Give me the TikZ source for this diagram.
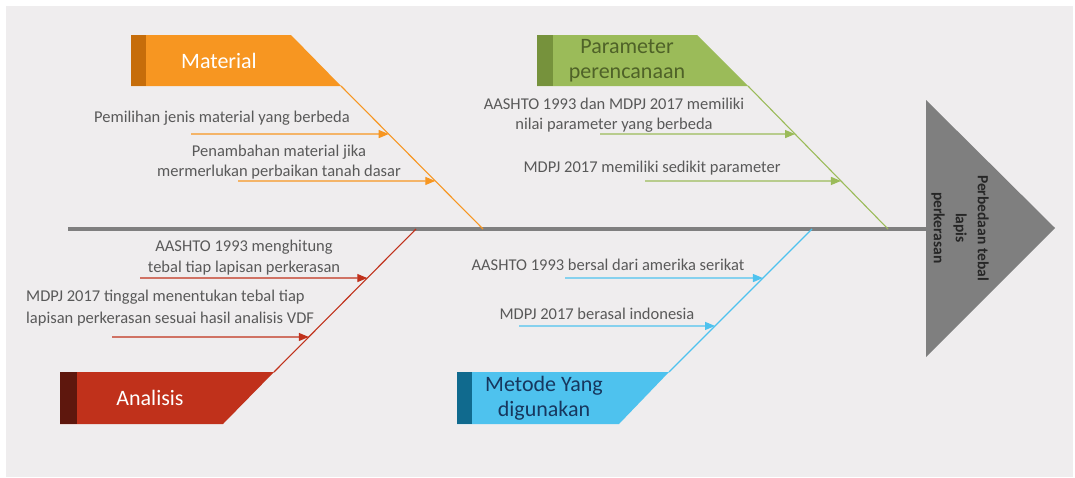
\documentclass[tikz,border=0pt]{standalone}
\usepackage{fontspec}
\setmainfont{Carlito}
\usetikzlibrary{arrows.meta,calc}

\definecolor{bgc}{HTML}{EFEDEE}
\definecolor{spinec}{HTML}{7F7F7F}
\definecolor{txt}{HTML}{595959}
\definecolor{orangem}{HTML}{F79621}
\definecolor{oranged}{HTML}{C66D0A}
\definecolor{greenm}{HTML}{9BBB59}
\definecolor{greend}{HTML}{76923C}
\definecolor{greent}{HTML}{4F6228}
\definecolor{redm}{HTML}{C0311B}
\definecolor{redd}{HTML}{5E170D}
\definecolor{bluem}{HTML}{4EC2EE}
\definecolor{blued}{HTML}{106A8E}
\definecolor{bluet}{HTML}{17375E}

\tikzset{
  label/.style={font=\fontsize{16.5}{20.5}\selectfont, text=txt, align=center, inner sep=0pt},
  boxtext/.style={font=\fontsize{22}{25}\selectfont, align=center, inner sep=0pt},
  bone/.style={line width=1.1pt},
  cause/.style={line width=1.2pt, -{Triangle[length=10pt,width=8pt]}},
  spine/.style={line width=4pt, draw=spinec},
}

\begin{document}
\begin{tikzpicture}[x=1pt,y=-1pt]
\useasboundingbox (0,0) rectangle (1075,477);
\fill[bgc] (6,6) rectangle (1073,477);

% main spine and head
\coordinate (tail) at (68,229);
\coordinate (head) at (926,229);
\fill[spinec] (926,100) -- (1055,228) -- (926,357) -- cycle;
\draw[spine] (tail) -- (head);
\node[rotate=-90, font=\bfseries\fontsize{15.5}{22}\selectfont, text=black!85, align=center, inner sep=0pt]
  (effect) at (960,228) {Perbedaan tebal\\lapis\\perkerasan};

% ---------- Material ----------
\fill[orangem] (131,35) -- (291,35) -- (341,86) -- (131,86) -- cycle;
\fill[oranged] (131,35) rectangle (146,86);
\node[boxtext, text=white] (mat) at (219,61) {Material};
\coordinate (matA) at (341,86);
\coordinate (matB) at (483,229);
\draw[bone, orangem] (matA) -- (matB);
\coordinate (m1) at ($(matA)!0.336!(matB)$);
\coordinate (m2) at ($(matA)!0.664!(matB)$);
\coordinate (m1s) at (191,134);
\coordinate (m2s) at (238,181);
\draw[cause, orangem] (m1s) -- (m1);
\draw[cause, orangem] (m2s) -- (m2);
\node[label] (mt1) at (222,118) {Pemilihan jenis material yang berbeda};
\node[label] (mt2) at (279,162) {Penambahan material jika\\mermerlukan perbaikan tanah dasar};

% ---------- Parameter perencanaan ----------
\fill[greenm] (537,35) -- (697,35) -- (748,86) -- (537,86) -- cycle;
\fill[greend] (537,35) rectangle (553,86);
\node[boxtext, text=greent] (par) at (627,61) {Parameter\\perencanaan};
\coordinate (parA) at (748,86);
\coordinate (parB) at (888,229);
\draw[bone, greenm] (parA) -- (parB);
\coordinate (p1) at ($(parA)!0.336!(parB)$);
\coordinate (p2) at ($(parA)!0.664!(parB)$);
\coordinate (p1s) at (600,134);
\coordinate (p2s) at (645,181);
\draw[cause, greenm] (p1s) -- (p1);
\draw[cause, greenm] (p2s) -- (p2);
\node[label] (pt1) at (614,115) {AASHTO 1993 dan MDPJ 2017 memiliki\\nilai parameter yang berbeda};
\node[label] (pt2) at (652,168) {MDPJ 2017 memiliki sedikit parameter};

% ---------- Analisis ----------
\fill[redm] (60,372) -- (274,372) -- (223,424) -- (60,424) -- cycle;
\fill[redd] (60,372) rectangle (77,424);
\node[boxtext, text=white] (ana) at (150,398) {Analisis};
\coordinate (anaA) at (274,372);
\coordinate (anaB) at (416,229);
\draw[bone, redm] (anaA) -- (anaB);
\coordinate (a1) at ($(anaA)!0.657!(anaB)$);
\coordinate (a2) at ($(anaA)!0.245!(anaB)$);
\coordinate (a1s) at (140,278);
\coordinate (a2s) at (112,337);
\draw[cause, redm] (a1s) -- (a1);
\draw[cause, redm] (a2s) -- (a2);
\node[label] (at1) at (244,257.5) {AASHTO 1993 menghitung\\tebal tiap lapisan perkerasan};
\node[label, font=\fontsize{16.5}{22}\selectfont, align=left, anchor=west] (at2) at (26,308) {MDPJ 2017 tinggal menentukan tebal tiap\\lapisan perkerasan sesuai hasil analisis VDF};

% ---------- Metode Yang digunakan ----------
\fill[bluem] (457,372) -- (669,372) -- (619,424) -- (457,424) -- cycle;
\fill[blued] (457,372) rectangle (472,424);
\node[boxtext, text=bluet] (met) at (544,398) {Metode Yang\\digunakan};
\coordinate (metA) at (669,372);
\coordinate (metB) at (812,229);
\draw[bone, bluem] (metA) -- (metB);
\coordinate (b1) at ($(metA)!0.657!(metB)$);
\coordinate (b2) at ($(metA)!0.322!(metB)$);
\coordinate (b1s) at (565,278);
\coordinate (b2s) at (519,326);
\draw[cause, bluem] (b1s) -- (b1);
\draw[cause, bluem] (b2s) -- (b2);
\node[label] (bt1) at (608,265) {AASHTO 1993 bersal dari amerika serikat};
\node[label] (bt2) at (597,314) {MDPJ 2017 berasal indonesia};
\end{tikzpicture}
\end{document}
